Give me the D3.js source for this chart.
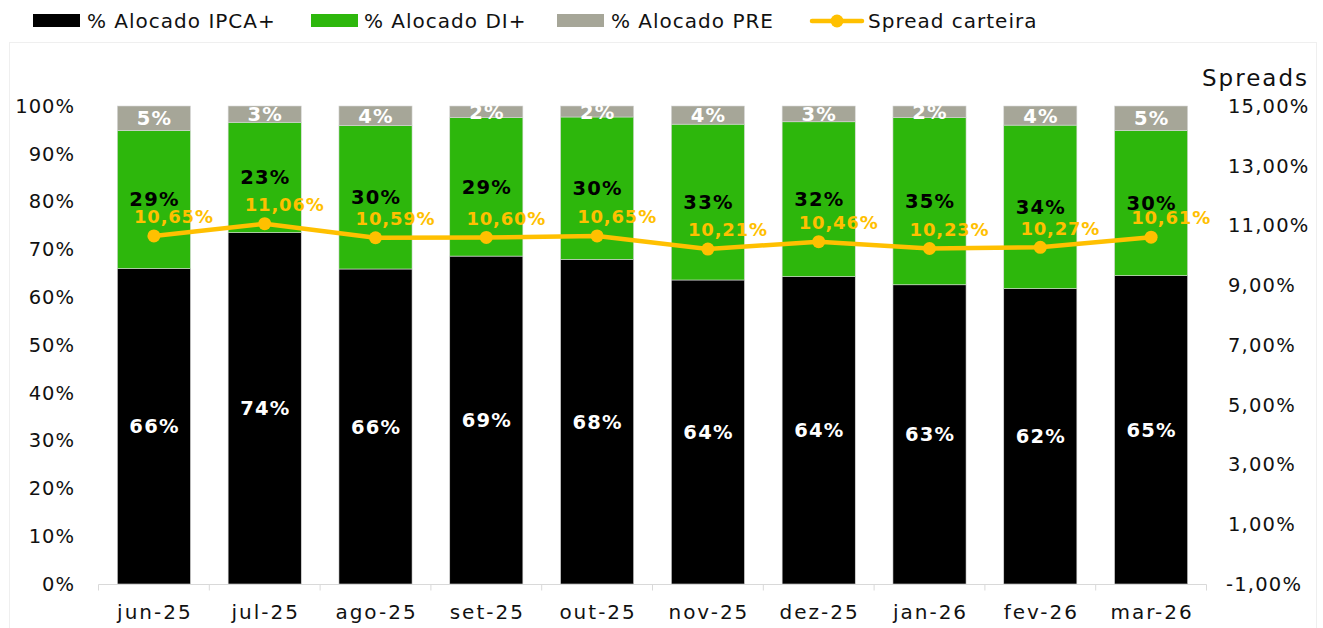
<!DOCTYPE html>
<html><head><meta charset="utf-8">
<script src="https://cdn.jsdelivr.net/npm/d3@7"></script>
<style>html,body{margin:0;padding:0;background:#fff;}svg{display:block;}</style>
</head><body>
<script>
const categories = ["jun-25","jul-25","ago-25","set-25","out-25","nov-25","dez-25","jan-26","fev-26","mar-26"];
const ipca = [66.0,73.5,65.9,68.6,67.9,63.6,64.3,62.6,61.8,64.5];
const di   = [28.9,23.1,30.0,29.0,29.8,32.6,32.4,35.0,34.2,30.4];
const pre  = [5.1,3.4,4.1,2.4,2.3,3.8,3.3,2.4,4.0,5.1];
const spread = [10.65,11.06,10.59,10.60,10.65,10.21,10.46,10.23,10.27,10.61];
const leftTicks = [0,10,20,30,40,50,60,70,80,90,100];
const rightTicks = [-1,1,3,5,7,9,11,13,15];
const seriesNames = ["% Alocado IPCA+","% Alocado DI+","% Alocado PRE","Spread carteira"];

const W=1323,H=628;
const colors={ipca:"#000000",di:"#2DB70C",pre:"#A6A698",line:"#FFC000"};
const FONT="'DejaVu Sans', sans-serif";
const svg=d3.select("body").append("svg").attr("width",W).attr("height",H);

// frame
svg.append("rect").attr("x",9.5).attr("y",42.5).attr("width",1307).attr("height",590)
  .attr("fill","none").attr("stroke","#efefef");

const x=d3.scaleBand().domain(categories).range([98.5,1206.5]).paddingInner(0.34).paddingOuter(0.17);
const yL=d3.scaleLinear().domain([0,100]).range([584,106]);
const yR=d3.scaleLinear().domain([-1,15]).range([584,106]);

const rows=categories.map((c,i)=>({cat:c,ipca:ipca[i],di:di[i],pre:pre[i]}));
const stack=d3.stack().keys(["ipca","di","pre"])(rows);

const g=svg.append("g");
stack.forEach(layer=>{
  g.selectAll(null).data(layer).enter().append("rect")
    .attr("x",d=>x(d.data.cat)).attr("width",x.bandwidth())
    .attr("y",d=>yL(d[1])).attr("height",d=>yL(d[0])-yL(d[1]))
    .attr("fill",colors[layer.key]).attr("stroke","#d9d9d9").attr("stroke-width",0.6);
});
// bar labels
const labColor={ipca:"#ffffff",di:"#000000",pre:"#ffffff"};
const LS=1.2;
stack.forEach(layer=>{
  g.selectAll(null).data(layer).enter().append("text")
    .attr("x",d=>x(d.data.cat)+x.bandwidth()/2+LS/2)
    .attr("y",d=>(yL(d[0])+yL(d[1]))/2)
    .attr("dy","0.36em").attr("text-anchor","middle")
    .attr("font-family",FONT).attr("font-weight","bold").attr("font-size",19.5)
    .attr("letter-spacing",LS)
    .attr("fill",labColor[layer.key])
    .text(d=>Math.round(d.data[layer.key])+"%");
});

// x axis
const xAxis=svg.append("g").attr("transform","translate(0,584.5)");
xAxis.append("line").attr("x1",98.5).attr("x2",1206.5).attr("stroke","#d9d9d9").attr("stroke-width",1.2);
d3.range(categories.length+1).forEach(i=>{
  const xx=98.5+i*(1108/categories.length);
  xAxis.append("line").attr("x1",xx).attr("x2",xx).attr("y1",0).attr("y2",6).attr("stroke","#d9d9d9");
});
xAxis.selectAll("text.xl").data(categories).enter().append("text")
  .attr("x",d=>x(d)+x.bandwidth()/2+1).attr("y",27).attr("dy","0.35em")
  .attr("text-anchor","middle").attr("font-family",FONT).attr("font-size",20).attr("letter-spacing",2).attr("fill","#111")
  .text(d=>d);

// left axis
const fmtL=d=>d+"%";
svg.append("g").selectAll("text").data(leftTicks).enter().append("text")
  .attr("x",75).attr("y",d=>yL(d)).attr("dy","0.35em").attr("text-anchor","end")
  .attr("font-family",FONT).attr("font-size",19.5).attr("letter-spacing",1).attr("fill","#111").text(fmtL);
// right axis
const fmtR=d=>d3.format(".2f")(d).replace(".",",").replace("\u2212","-")+"%";
svg.append("g").selectAll("text").data(rightTicks).enter().append("text")
  .attr("x",d=>d<0?1226:1228).attr("y",d=>yR(d)).attr("dy","0.35em").attr("text-anchor","start")
  .attr("font-family",FONT).attr("font-size",19.5).attr("letter-spacing",1.2).attr("fill","#111").text(fmtR);
svg.append("text").attr("x",1309).attr("y",78).attr("dy","0.35em").attr("text-anchor","end")
  .attr("font-family",FONT).attr("font-size",23).attr("letter-spacing",2).attr("fill","#111").text("Spreads");

// line
const cx=d=>x(d)+x.bandwidth()/2;
const line=d3.line().x((d,i)=>cx(categories[i])).y(d=>yR(d));
svg.append("path").datum(spread).attr("d",line).attr("fill","none")
  .attr("stroke",colors.line).attr("stroke-width",4.5).attr("stroke-linejoin","round");
svg.selectAll("circle.pt").data(spread).enter().append("circle")
  .attr("cx",(d,i)=>cx(categories[i])).attr("cy",d=>yR(d)).attr("r",6.5).attr("fill",colors.line);
svg.selectAll("text.sl").data(spread).enter().append("text")
  .attr("x",(d,i)=>cx(categories[i])+20).attr("y",d=>yR(d)-19).attr("dy","0.35em")
  .attr("text-anchor","middle").attr("font-family",FONT).attr("font-weight","bold")
  .attr("font-size",18).attr("letter-spacing",0.8).attr("fill",colors.line)
  .text(d=>d3.format(".2f")(d).replace(".",",")+"%");

// legend
const leg=svg.append("g");
const legItems=[
  {name:seriesNames[0],c:colors.ipca,sx:33,tx:87},
  {name:seriesNames[1],c:colors.di,sx:311,tx:364},
  {name:seriesNames[2],c:colors.pre,sx:557,tx:611},
];
legItems.forEach(it=>{
  leg.append("rect").attr("x",it.sx).attr("y",14).attr("width",47).attr("height",13).attr("fill",it.c);
  leg.append("text").attr("x",it.tx).attr("y",21).attr("dy","0.35em").attr("font-family",FONT)
    .attr("font-size",20).attr("letter-spacing",1).attr("fill","#111").text(it.name);
});
leg.append("line").attr("x1",812).attr("x2",862).attr("y1",21).attr("y2",21).attr("stroke",colors.line).attr("stroke-width",4.5).attr("stroke-linecap","round");
leg.append("circle").attr("cx",837).attr("cy",21).attr("r",6.5).attr("fill",colors.line);
leg.append("text").attr("x",868).attr("y",21).attr("dy","0.35em").attr("font-family",FONT)
  .attr("font-size",20).attr("letter-spacing",1).attr("fill","#111").text(seriesNames[3]);
</script>
</body></html>
